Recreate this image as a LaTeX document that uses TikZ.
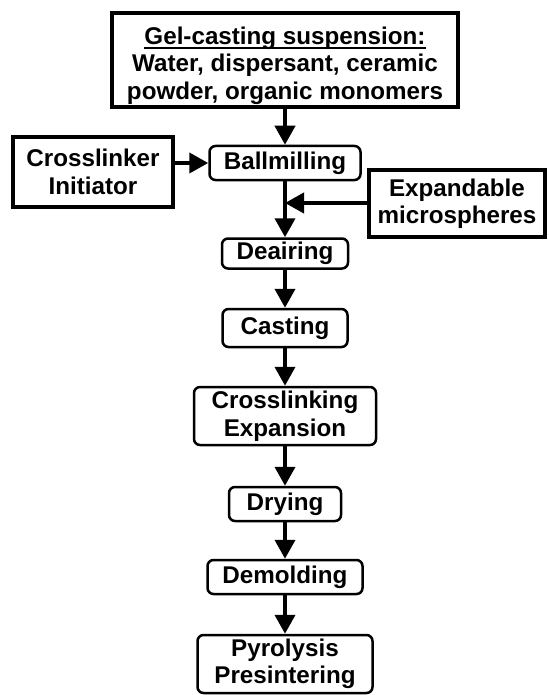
\documentclass[tikz,border=0pt]{standalone}
\usepackage{fontspec}
\setmainfont{Liberation Sans}
\newsavebox\myulbox
\newcommand\myul[1]{\sbox\myulbox{#1}\rlap{\rule[-4.5pt]{\wd\myulbox}{1.8pt}}\usebox\myulbox}
\usetikzlibrary{arrows.meta}
\begin{document}
\begin{tikzpicture}[x=1pt,y=-1pt,
  every node/.style={font=\fontsize{24.2}{27.5}\selectfont\bfseries, align=center, inner sep=0pt},
  proc/.style={draw, line width=2.5pt, rounded corners=6pt},
  feed/.style={draw, line width=3.5pt},
  flow/.style={line width=4pt, -{Triangle[length=19pt,width=20pt]}}]
\useasboundingbox (0,0) rectangle (548,695);
\node[feed, minimum width=346pt, minimum height=94pt] (top) at (285,60)
  {\rule{0pt}{29pt}\myul{Gel-casting suspension:}\\Water, dispersant, ceramic\\powder, organic monomers};
\node[proc, minimum width=151pt, minimum height=34pt] (ball) at (285,163) {Ballmilling};
\node[feed, minimum width=160pt, minimum height=70pt] (cross) at (93,172) {Crosslinker\\Initiator};
\node[feed, minimum width=176pt, minimum height=67pt] (exp) at (457,203.5) {Expandable\\microspheres};
\node[proc, minimum width=126pt, minimum height=30pt] (dear) at (285,253.5) {Deairing};
\node[proc, minimum width=125pt, minimum height=38pt] (cast) at (285,328) {Casting};
\node[proc, minimum width=182pt, minimum height=58pt] (link) at (285,416) {Crosslinking\\Expansion};
\node[proc, minimum width=112pt, minimum height=34pt] (dry) at (285,504) {Drying};
\node[proc, minimum width=155pt, minimum height=34pt] (demo) at (285,577) {Demolding};
\node[proc, minimum width=175pt, minimum height=58pt] (pyro) at (285,664) {Pyrolysis\\Presintering};
\coordinate (j) at (285,203);
\draw[flow] (top) -- (ball);
\draw[flow] (ball.west -| cross.east) -- (ball.west);
\draw[flow] (ball) -- (dear);
\draw[flow] (exp.west |- j) -- (j);
\draw[flow] (dear) -- (cast);
\draw[flow] (cast) -- (link);
\draw[flow] (link) -- (dry);
\draw[flow] (dry) -- (demo);
\draw[flow] (demo) -- (pyro);
\end{tikzpicture}
\end{document}
